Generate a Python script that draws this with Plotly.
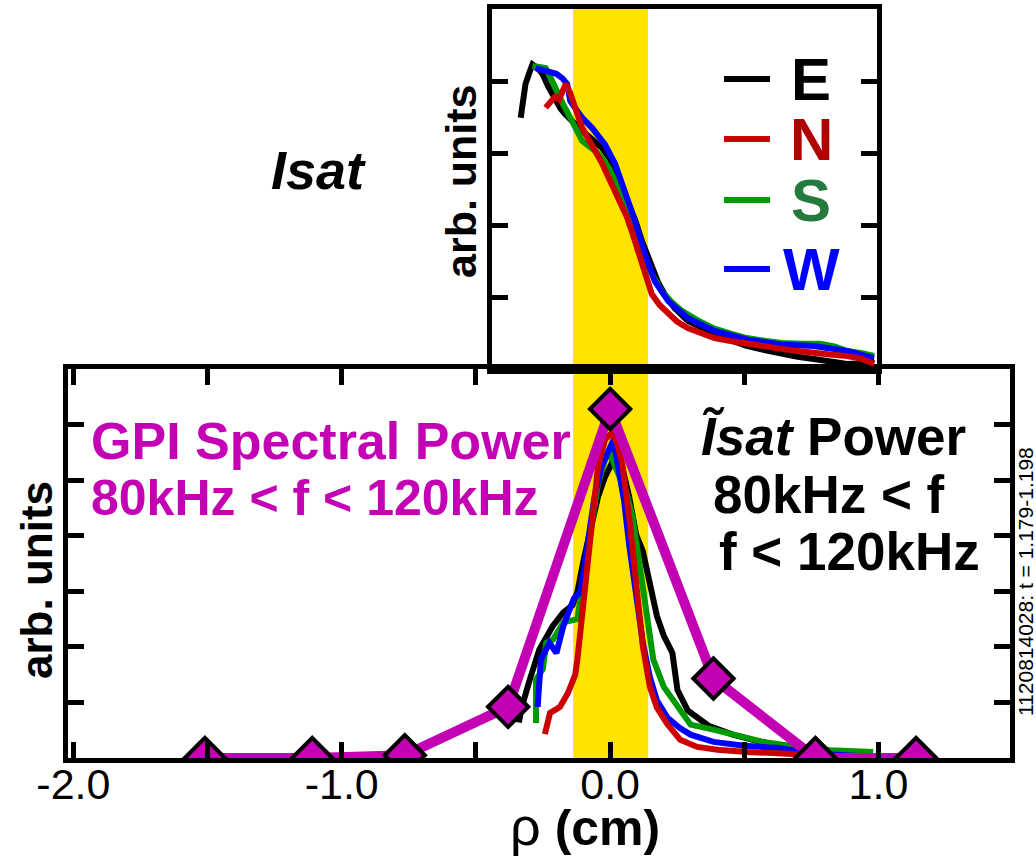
import plotly.graph_objects as go

W, H = 1036, 857
def px(x): return x / W
def py(y): return 1 - y / H

FONT = "Liberation Sans, Arial, Helvetica, sans-serif"
MAG = "#C400B4"
YEL = "#FFE400"
COL = {"E": "#000000", "N": "#CC0000", "S": "#009A00", "W": "#0000FF"}
LETTER_COL = {"E": "#000000", "N": "#B00000", "S": "#237A3C", "W": "#0000FF"}

# ---------------- data ----------------
band = [-0.138, 0.142]

# top panel: Isat profiles (arb. units)
E_top_x = [-0.333, -0.322, -0.315, -0.300, -0.289, -0.270, -0.252, -0.230, -0.204, -0.185, -0.167, -0.140, -0.104, -0.070, -0.030, 0.000, 0.019, 0.045, 0.070, 0.095, 0.119, 0.140, 0.156, 0.180, 0.204, 0.240, 0.290, 0.340, 0.390, 0.450, 0.510, 0.580, 0.640, 0.700, 0.760, 0.820, 0.885, 0.940, 0.985]
E_top_y = [3.49, 3.75, 3.96, 4.12, 4.23, 4.18, 4.10, 3.92, 3.72, 3.62, 3.54, 3.43, 3.31, 3.20, 3.07, 2.92, 2.75, 2.55, 2.33, 2.06, 1.78, 1.58, 1.40, 1.20, 1.04, 0.85, 0.67, 0.57, 0.49, 0.40, 0.32, 0.26, 0.21, 0.17, 0.14, 0.11, 0.07, 0.08, 0.14]

S_top_x = [-0.289, -0.265, -0.240, -0.222, -0.204, -0.175, -0.141, -0.120, -0.104, -0.080, -0.055, -0.030, -0.004, 0.020, 0.044, 0.070, 0.093, 0.120, 0.144, 0.170, 0.193, 0.230, 0.267, 0.330, 0.390, 0.450, 0.510, 0.580, 0.640, 0.720, 0.785, 0.840, 0.885, 0.940, 0.985]
S_top_y = [4.21, 4.20, 4.18, 4.05, 3.90, 3.68, 3.44, 3.28, 3.17, 3.10, 3.03, 2.93, 2.79, 2.60, 2.38, 2.15, 1.92, 1.65, 1.40, 1.22, 1.08, 0.93, 0.81, 0.67, 0.56, 0.49, 0.43, 0.39, 0.36, 0.35, 0.35, 0.31, 0.25, 0.22, 0.18]

W_top_x = [-0.278, -0.255, -0.226, -0.200, -0.178, -0.160, -0.148, -0.125, -0.104, -0.067, -0.019, 0.019, 0.056, 0.093, 0.130, 0.167, 0.218, 0.290, 0.390, 0.510, 0.640, 0.760, 0.885, 0.985]
W_top_y = [4.18, 4.16, 4.14, 4.10, 4.04, 3.96, 3.72, 3.58, 3.49, 3.35, 3.12, 2.85, 2.47, 2.06, 1.60, 1.22, 0.94, 0.71, 0.53, 0.41, 0.34, 0.32, 0.25, 0.15]

N_top_x = [-0.240, -0.225, -0.205, -0.190, -0.175, -0.165, -0.150, -0.130, -0.104, -0.080, -0.055, -0.030, -0.004, 0.020, 0.044, 0.062, 0.081, 0.100, 0.119, 0.140, 0.156, 0.185, 0.218, 0.250, 0.290, 0.340, 0.390, 0.450, 0.510, 0.580, 0.640, 0.700, 0.760, 0.820, 0.885, 0.940, 0.985]
N_top_y = [3.63, 3.70, 3.78, 3.74, 3.90, 3.96, 3.85, 3.63, 3.35, 3.19, 3.03, 2.86, 2.65, 2.47, 2.29, 2.12, 1.92, 1.70, 1.46, 1.22, 1.04, 0.89, 0.76, 0.66, 0.57, 0.50, 0.43, 0.39, 0.35, 0.31, 0.28, 0.25, 0.22, 0.20, 0.18, 0.14, 0.07]

# bottom panel: Isat fluctuation power 80-120 kHz
E_bot_x = [-0.340, -0.330, -0.300, -0.264, -0.213, -0.174, -0.140, -0.122, -0.097, -0.071, -0.045, -0.019, 0.006, 0.019, 0.045, 0.071, 0.097, 0.122, 0.148, 0.174, 0.200, 0.232, 0.251, 0.290, 0.367, 0.457, 0.560, 0.690, 0.820, 0.947]
E_bot_y = [0.64, 0.90, 1.40, 1.95, 2.38, 2.62, 2.75, 2.99, 3.60, 4.20, 4.70, 5.06, 5.30, 5.55, 5.24, 4.70, 4.02, 3.72, 3.11, 2.56, 2.20, 1.89, 1.22, 0.85, 0.58, 0.42, 0.29, 0.18, 0.10, 0.06]

S_bot_x = [-0.276, -0.276, -0.251, -0.238, -0.213, -0.174, -0.122, -0.097, -0.071, -0.045, -0.019, 0.000, 0.019, 0.058, 0.084, 0.110, 0.135, 0.161, 0.200, 0.251, 0.300, 0.385, 0.470, 0.570, 0.700, 0.820, 0.980]
S_bot_y = [0.63, 1.41, 1.60, 2.07, 2.13, 2.44, 2.50, 3.35, 4.20, 4.94, 5.37, 5.49, 5.24, 4.82, 4.33, 3.48, 2.50, 1.77, 1.28, 0.92, 0.60, 0.51, 0.40, 0.29, 0.20, 0.14, 0.11]

W_bot_x = [-0.270, -0.258, -0.226, -0.200, -0.174, -0.135, -0.110, -0.084, -0.058, -0.032, -0.006, 0.013, 0.032, 0.052, 0.071, 0.097, 0.122, 0.148, 0.174, 0.213, 0.260, 0.300, 0.385, 0.500, 0.630, 0.754, 0.947]
W_bot_y = [0.92, 1.77, 2.07, 1.89, 2.38, 2.87, 2.99, 3.84, 4.70, 5.24, 5.55, 5.73, 5.18, 4.63, 3.84, 2.99, 2.07, 1.46, 1.04, 0.73, 0.54, 0.42, 0.29, 0.22, 0.18, 0.08, 0.03]

N_bot_x = [-0.243, -0.232, -0.224, -0.200, -0.187, -0.157, -0.130, -0.122, -0.097, -0.071, -0.045, -0.019, 0.006, 0.026, 0.045, 0.071, 0.097, 0.122, 0.148, 0.174, 0.213, 0.261, 0.325, 0.400, 0.510, 0.630, 0.760, 0.947]
N_bot_y = [0.43, 0.67, 0.81, 0.88, 0.92, 1.17, 1.50, 1.77, 2.87, 4.20, 5.24, 5.73, 5.85, 5.67, 5.30, 4.33, 3.23, 2.01, 1.28, 0.91, 0.61, 0.33, 0.20, 0.15, 0.11, 0.08, 0.05, 0.01]

# GPI spectral power
GPI_x = [-1.51, -1.11, -0.765, -0.38, 0.0, 0.385, 0.765, 1.14]
GPI_y = [0.0, 0.0, 0.05, 0.92, 6.28, 1.43, 0.0, 0.0]

x_tickvals = [-2.0, -1.5, -1.0, -0.5, 0.0, 0.5, 1.0]
x_ticktext = ["-2.0", "", "-1.0", "", "0.0", "", "1.0"]
y_bot_ticks = [1, 2, 3, 4, 5, 6]
y_top_ticks = [1, 2, 3, 4]

# ---------------- figure ----------------
fig = go.Figure()

for key, xs, ys in [("E", E_top_x, E_top_y), ("S", S_top_x, S_top_y),
                    ("W", W_top_x, W_top_y), ("N", N_top_x, N_top_y)]:
    fig.add_trace(go.Scatter(x=xs, y=ys, mode="lines", xaxis="x2", yaxis="y2",
                             line=dict(color=COL[key], width=6), showlegend=False,
                             hoverinfo="skip"))

for key, xs, ys in [("E", E_bot_x, E_bot_y), ("S", S_bot_x, S_bot_y),
                    ("W", W_bot_x, W_bot_y), ("N", N_bot_x, N_bot_y)]:
    fig.add_trace(go.Scatter(x=xs, y=ys, mode="lines", xaxis="x", yaxis="y",
                             line=dict(color=COL[key], width=6), showlegend=False,
                             hoverinfo="skip"))

fig.add_trace(go.Scatter(x=GPI_x, y=GPI_y, mode="lines+markers", xaxis="x", yaxis="y",
                         line=dict(color=MAG, width=10),
                         marker=dict(symbol="diamond", size=31, color=MAG,
                                     line=dict(color="black", width=4)),
                         showlegend=False, hoverinfo="skip"))

axis_common = dict(showline=True, linecolor="black", linewidth=5,
                   showgrid=False, zeroline=False, automargin=False)

fig.update_layout(
    template="none",
    width=W, height=H, autosize=False,
    margin=dict(l=0, r=0, t=0, b=0, pad=0),
    paper_bgcolor="white", plot_bgcolor="rgba(0,0,0,0)",
    font=dict(family=FONT, color="black"),
    showlegend=False,
    xaxis=dict(domain=[px(68), px(1010)], range=[-2.02, 1.49],
               tickvals=x_tickvals, ticktext=x_ticktext,
               ticks="inside", ticklen=16, tickwidth=5, tickcolor="black",
               ticklabelstandoff=-16,
               tickfont=dict(size=43, family=FONT), anchor="y", mirror="ticks",
               **axis_common),
    yaxis=dict(domain=[py(758), py(369)], range=[0, 7],
               tickvals=y_bot_ticks, ticks="inside", ticklen=16, tickwidth=5,
               tickcolor="black", showticklabels=False, anchor="x", mirror="ticks",
               **axis_common),
    xaxis2=dict(domain=[px(492), px(877)], range=[-0.44, 0.996],
                ticks="", showticklabels=False, anchor="y2", mirror=True,
                **axis_common),
    yaxis2=dict(domain=[py(369), py(9)], range=[0, 5],
                tickvals=y_top_ticks, ticks="inside", ticklen=16, tickwidth=5,
                tickcolor="black", showticklabels=False, anchor="x2", mirror="ticks",
                **axis_common),
)

# highlighted band in both panels
fig.add_shape(type="rect", xref="x", yref="y domain", x0=band[0], x1=band[1], y0=0, y1=1,
              fillcolor=YEL, line=dict(width=0), layer="below")
fig.add_shape(type="rect", xref="x2", yref="y2 domain", x0=band[0], x1=band[1], y0=0, y1=1,
              fillcolor=YEL, line=dict(width=0), layer="below")

def ann(text, x, y, size, color="black", xanchor="center", angle=0, **kw):
    fig.add_annotation(text=text, x=px(x), y=py(y), xref="paper", yref="paper",
                       showarrow=False, xanchor=xanchor, yanchor="middle",
                       textangle=angle, borderpad=0,
                       font=dict(size=size, color=color, family=FONT), **kw)

ann("<b><i>Isat</i></b>", 318, 170, 54)
ann("<b>arb. units</b>", 461, 181, 43, angle=-90)
ann("<b>arb. units</b>", 36, 580, 44, angle=-90)
ann("<b>GPI Spectral Power</b>", 90, 441, 52, color=MAG, xanchor="left")
ann("<b>80kHz &lt; f &lt; 120kHz</b>", 90, 498, 50, color=MAG, xanchor="left")
ann("<b><i>\u0128sat</i> Power</b>", 700, 437, 53, xanchor="left")
ann("<b>80kHz &lt; f</b>", 712, 494, 53, xanchor="left")
ann("<b>f &lt; 120kHz</b>", 718, 551, 53, xanchor="left")
ann("1120814028: t = 1.179-1.198", 1025, 582, 21, angle=-90)
ann("<span style='font-size:54px'>\u03c1</span> <b>(cm)</b>", 585, 826, 50)

# legend for top panel
leg_y = {"E": 79, "N": 139, "S": 200, "W": 269}
for k, yy in leg_y.items():
    fig.add_shape(type="line", xref="paper", yref="paper", x0=px(724), x1=px(770),
                  y0=py(yy), y1=py(yy), line=dict(color=COL[k], width=6))
    ann("<b>%s</b>" % k, 811, yy, 60, color=LETTER_COL[k], height=58)

fig.write_html("out.html")
